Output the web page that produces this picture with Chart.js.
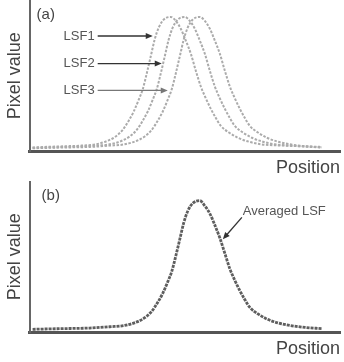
<!DOCTYPE html>
<html>
<head>
<meta charset="utf-8">
<script src="https://cdn.jsdelivr.net/npm/chart.js@4"></script>
<style>
  body { margin: 0; background: #fff; }
  .panel { position: relative; width: 344px; height: 181px; }
</style>
</head>
<body>
<div class="panel"><canvas id="chart-a"></canvas></div>
<div class="panel"><canvas id="chart-b"></canvas></div>
<script>
// LSF curves (position in arbitrary units, value in % of peak)
const lsf1Pos = [3, 15, 35, 52, 66, 79, 86, 93, 99, 104, 109, 113, 117, 121, 125, 129, 134, 141, 146, 151, 156, 161, 166, 171, 176, 181, 186, 191, 199, 208, 219, 231, 255, 292];
const lsf1Val = [0.5, 1, 1.5, 2, 3, 6, 9, 14, 21, 28, 37, 45, 57, 70, 83, 92, 98, 100, 97, 91, 82, 72, 59, 47, 38, 30, 23, 17, 12, 8, 5, 3, 2, 1];

const lsf2Pos = [3, 20, 45, 65, 80, 93, 100, 107, 113, 118, 123, 127, 131, 135, 139, 143, 148, 155, 160, 165, 170, 175, 180, 185, 190, 195, 200, 205, 213, 222, 233, 245, 265, 292];
const lsf2Val = [0.3, 0.7, 1.2, 2, 3, 6, 9, 14, 21, 28, 37, 45, 57, 70, 83, 92, 98, 100, 97, 91, 82, 72, 59, 47, 38, 30, 23, 17, 12, 8, 5, 3, 1.8, 0.7];

const lsf3Pos = [3, 30, 60, 80, 95, 108, 115, 122, 128, 133, 138, 142, 146, 150, 154, 158, 163, 170, 175, 180, 185, 190, 195, 200, 205, 210, 215, 220, 228, 237, 248, 260, 275, 292];
const lsf3Val = [0, 0.5, 1, 2, 3, 6, 9, 14, 21, 28, 37, 45, 57, 70, 83, 92, 98, 100, 97, 91, 82, 72, 59, 47, 38, 30, 23, 17, 12, 8, 5, 3, 1.5, 0.5];

const avgPos = [3, 30, 60, 80, 95, 108, 115, 122, 128, 133, 138, 142, 146, 150, 154, 158, 163, 170, 175, 180, 185, 190, 195, 200, 205, 210, 215, 220, 228, 237, 248, 260, 275, 292];
const avgVal = [0, 0.5, 1, 2, 3, 6, 9, 14, 21, 28, 37, 45, 57, 70, 83, 92, 98, 100, 96, 90, 81, 71, 59, 47, 38, 30, 23, 17, 12, 8, 5, 3, 1.5, 0.5];

// Labels with arrows, placed in data units: [text, textX, y, arrowFromX, arrowToX, colour]
const lsfLabels = [
  ["LSF1", 65, 85.5, 68, 123, "#333"],
  ["LSF2", 65, 64.5, 68, 132, "#333"],
  ["LSF3", 65, 44, 68, 138, "#777"],
];

const FONT = "'Liberation Sans', Arial, sans-serif";

function toPoints(xs, ys) {
  return xs.map((x, i) => ({ x: x, y: ys[i] }));
}

function lineDataset(xs, ys, color, width, dash) {
  return {
    data: toPoints(xs, ys),
    borderColor: color,
    borderWidth: width,
    borderDash: dash,
    pointRadius: 0,
    cubicInterpolationMode: "monotone",
    fill: false,
  };
}

function drawArrow(ctx, x1, y1, x2, y2, color) {
  const ang = Math.atan2(y2 - y1, x2 - x1);
  ctx.save();
  ctx.strokeStyle = color;
  ctx.fillStyle = color;
  ctx.lineWidth = 1.3;
  ctx.beginPath();
  ctx.moveTo(x1, y1);
  ctx.lineTo(x2 - 5 * Math.cos(ang), y2 - 5 * Math.sin(ang));
  ctx.stroke();
  ctx.beginPath();
  ctx.moveTo(x2, y2);
  ctx.lineTo(x2 - 7 * Math.cos(ang) + 3 * Math.sin(ang), y2 - 7 * Math.sin(ang) - 3 * Math.cos(ang));
  ctx.lineTo(x2 - 7 * Math.cos(ang) - 3 * Math.sin(ang), y2 - 7 * Math.sin(ang) + 3 * Math.cos(ang));
  ctx.closePath();
  ctx.fill();
  ctx.restore();
}

function makeOptions(yMax) {
  return {
    responsive: true,
    maintainAspectRatio: false,
    animation: false,
    layout: { padding: { left: 0, right: 4, top: 0, bottom: 0 } },
    plugins: { legend: { display: false }, tooltip: { enabled: false } },
    scales: {
      x: {
        type: "linear",
        min: 0,
        max: 310,
        grid: { display: false, drawTicks: false },
        border: { display: true, color: "#555", width: 3 },
        ticks: { display: false },
        title: {
          display: true,
          text: "Position",
          align: "end",
          color: "#444",
          font: { family: FONT, size: 18 },
          padding: { top: 6, bottom: 2 },
        },
      },
      y: {
        min: -2.4,
        max: yMax,
        grid: { display: false, drawTicks: false },
        border: { display: true, color: "#666", width: 2 },
        ticks: { display: false },
        title: {
          display: true,
          text: "Pixel value",
          color: "#444",
          font: { family: FONT, size: 18 },
          padding: { top: 4, bottom: 4 },
        },
      },
    },
  };
}

// Annotation plugin: panel letter plus labelled arrows
function annotationPlugin(panelLabel, labelX, labelY, extra) {
  return {
    id: "annotations",
    afterDatasetsDraw(chart) {
      const ctx = chart.ctx;
      const xs = chart.scales.x;
      const ys = chart.scales.y;
      ctx.save();
      ctx.fillStyle = "#444";
      ctx.font = "15px " + FONT;
      ctx.textBaseline = "middle";
      ctx.textAlign = "left";
      ctx.fillText(panelLabel, xs.getPixelForValue(labelX), ys.getPixelForValue(labelY));
      ctx.restore();
      extra(ctx, xs, ys);
    },
  };
}

new Chart(document.getElementById("chart-a"), {
  type: "line",
  data: {
    datasets: [
      lineDataset(lsf1Pos, lsf1Val, "#ababab", 2, [2.5, 1.5]),
      lineDataset(lsf2Pos, lsf2Val, "#ababab", 2, [2.5, 1.5]),
      lineDataset(lsf3Pos, lsf3Val, "#ababab", 2, [2.5, 1.5]),
    ],
  },
  options: makeOptions(112.9),
  plugins: [
    annotationPlugin("(a)", 7, 101.6, function (ctx, xs, ys) {
      lsfLabels.forEach((lab) => {
        const y = ys.getPixelForValue(lab[2]);
        ctx.save();
        ctx.fillStyle = "#555";
        ctx.font = "13px " + FONT;
        ctx.textAlign = "right";
        ctx.textBaseline = "middle";
        ctx.fillText(lab[0], xs.getPixelForValue(lab[1]), y);
        ctx.restore();
        drawArrow(ctx, xs.getPixelForValue(lab[3]), y, xs.getPixelForValue(lab[4]), y, lab[5]);
      });
    }),
  ],
});

new Chart(document.getElementById("chart-b"), {
  type: "line",
  data: {
    datasets: [lineDataset(avgPos, avgVal, "#5e5e5e", 2.8, [3, 1])],
  },
  options: makeOptions(115.3),
  plugins: [
    annotationPlugin("(b)", 12, 104, function (ctx, xs, ys) {
      ctx.save();
      ctx.fillStyle = "#555";
      ctx.font = "13px " + FONT;
      ctx.textAlign = "left";
      ctx.textBaseline = "middle";
      ctx.fillText("Averaged LSF", xs.getPixelForValue(213), ys.getPixelForValue(92));
      ctx.restore();
      drawArrow(ctx, xs.getPixelForValue(212), ys.getPixelForValue(87),
        xs.getPixelForValue(193), ys.getPixelForValue(70), "#333");
    }),
  ],
});
</script>
</body>
</html>
